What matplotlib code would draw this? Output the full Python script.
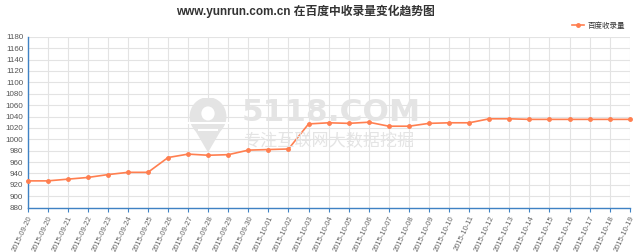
import matplotlib
matplotlib.use("Agg")
import matplotlib.pyplot as plt
from matplotlib.patches import Circle, Polygon, Rectangle

plt.rcParams["font.family"] = ["Liberation Sans", "Noto Sans CJK SC", "DejaVu Sans"]

TITLE = "www.yunrun.com.cn 在百度中收录量变化趋势图"
SERIES = "百度收录量"
dates = (["2015-09-20", "2015-09-20"]
         + [f"2015-09-{d:02d}" for d in range(21, 31)]
         + [f"2015-10-{d:02d}" for d in range(1, 20)])
counts = [927, 927, 930, 933, 938, 942, 942, 968, 974, 972, 973, 981, 982, 983,
          1027, 1029, 1028, 1030, 1023, 1023, 1028, 1029, 1029, 1036, 1036,
          1035, 1035, 1035, 1035, 1035, 1035]
yticks = list(range(880, 1181, 20))

_ORANGE, _BLUE, _GRID, _WM = "#ff7f50", "#3f82c4", "#e3e3e3", "#e4e4e4"

fig = plt.figure(figsize=(6.4, 2.52), dpi=100)
ax = fig.add_axes([0.043, 0.176, 0.941, 0.678])
x = list(range(len(dates)))

# watermark (figure coords, behind everything)
fig.text(0.378, 0.555, "5118.COM", fontsize=22.5, fontweight="bold", color=_WM,
         family="DejaVu Sans", ha="left", va="center", zorder=0)
fig.text(0.38, 0.438, "专注互联网大数据挖掘", fontsize=12.3, color=_WM,
         family="Noto Sans CJK SC", ha="left", va="center", zorder=0)
wm = fig.add_axes([0.285, 0.395, 0.08, 0.215])
wm.set_xlim(0, 1)
wm.set_ylim(0, 1)
wm.axis("off")
wm.patch.set_alpha(0)
wm.add_patch(Circle((0.5, 0.66), 0.36, color=_WM, lw=0))
wm.add_patch(Polygon([(0.16, 0.55), (0.84, 0.55), (0.5, 0.0)], color=_WM, lw=0))
wm.add_patch(Circle((0.5, 0.72), 0.13, color="white", lw=0))
wm.add_patch(Rectangle((0.05, 0.52), 0.9, 0.04, color="white", lw=0))
wm.add_patch(Rectangle((0.3, 0.4), 0.4, 0.03, color="white", lw=0))

ax.patch.set_alpha(0)
ax.plot(x, counts, color=_ORANGE, lw=1.2, marker="o", ms=2.5, mec=_ORANGE,
        mfc=_ORANGE, label=SERIES, zorder=3, clip_on=False)

ax.set_xlim(0, len(dates) - 1)
ax.set_ylim(880, 1180)
ax.set_yticks(yticks)
ax.set_xticks(x)
ax.set_xticklabels(dates, rotation=65, ha="right", va="top",
                   rotation_mode="anchor", fontsize=5.5, color="#666666")
ax.tick_params(axis="y", length=0, labelsize=5.8, labelcolor="#555555", pad=3)
ax.tick_params(axis="x", length=3, width=0.8, color=_BLUE, pad=2)
ax.grid(True, color=_GRID, lw=0.8)
ax.set_axisbelow(True)
for s in ("top", "right"):
    ax.spines[s].set_visible(False)
for s in ("left", "bottom"):
    ax.spines[s].set_color(_BLUE)
    ax.spines[s].set_linewidth(1.0)

fig.text(0.477, 0.955, TITLE, fontsize=8.5, fontweight="bold", color="#333333",
         ha="center", va="center")
leg = ax.legend(loc="center right", bbox_to_anchor=(0.998, 1.063), frameon=False,
                fontsize=5.4, handlelength=1.5, handletextpad=0.5, borderpad=0)
for t in leg.get_texts():
    t.set_color("#333333")

fig.savefig("out.png", dpi=100)
